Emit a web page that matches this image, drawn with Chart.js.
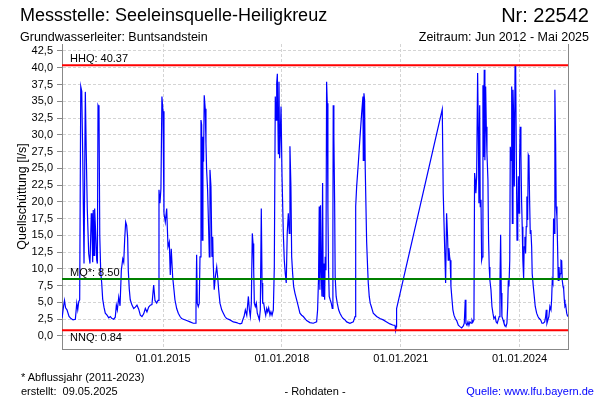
<!DOCTYPE html>
<html>
<head>
<meta charset="utf-8">
<script src="https://cdn.jsdelivr.net/npm/chart.js@4.4.1/dist/chart.umd.min.js"></script>
<style>
  body { margin: 0; background: #fff; }
  #box { position: relative; width: 600px; height: 400px; font-family: 'Liberation Sans', Arial, sans-serif; color: #000; }
  #box div { position: absolute; white-space: pre; line-height: 1; }
  canvas { position: absolute; left: 0; top: 0; }
</style>
</head>
<body>
<div id="box">
  <canvas id="chart" width="600" height="400"></canvas>
  <div style="left:20px;top:6px;font-size:18px">Messstelle: Seeleinsquelle-Heiligkreuz</div>
  <div style="right:11px;top:5px;font-size:20px">Nr: 22542</div>
  <div style="left:20px;top:31px;font-size:12.5px">Grundwasserleiter: Buntsandstein</div>
  <div style="right:11px;top:31px;font-size:12.5px">Zeitraum: Jun 2012 - Mai 2025</div>
  <div style="left:21px;top:372px;font-size:11px">* Abflussjahr (2011-2023)</div>
  <div style="left:21px;top:386px;font-size:11px">erstellt:  09.05.2025</div>
  <div style="left:315px;top:386px;font-size:11px;transform:translateX(-50%)">- Rohdaten -</div>
  <div style="right:6px;top:386px;font-size:11px;color:#0000ff">Quelle: www.lfu.bayern.de</div>
</div>
<script>
// Kennwerte
const hhq = 40.37
const mq = 8.50
const nnq = 0.84

// Achsen
const xTickDates = ['2015-01-01', '2018-01-01', '2021-01-01', '2024-01-01']
const yTickValues = [0, 2.5, 5, 7.5, 10, 12.5, 15, 17.5, 20, 22.5, 25, 27.5, 30, 32.5, 35, 37.5, 40, 42.5]

const datum = [
  '2012-06-15','2012-06-28','2012-07-07','2012-07-17','2012-07-30','2012-08-18','2012-09-05','2012-09-24','2012-10-15','2012-10-28',
  '2012-11-06','2012-11-15','2012-11-24','2012-12-04','2012-12-13','2012-12-22',
  '2013-01-03','2013-01-15','2013-01-24','2013-02-02','2013-02-15','2013-02-27','2013-03-11','2013-03-17','2013-03-24','2013-03-29',
  '2013-04-05','2013-04-11','2013-04-21','2013-04-30','2013-05-06','2013-05-12','2013-05-21','2013-05-28','2013-06-06','2013-06-15',
  '2013-06-24','2013-07-06','2013-07-18','2013-08-03','2013-08-19','2013-09-02','2013-09-18','2013-10-04','2013-10-18','2013-10-28',
  '2013-11-06','2013-11-19','2013-12-01','2013-12-13','2013-12-26',
  '2014-01-04','2014-01-13','2014-01-22','2014-01-31','2014-02-09','2014-02-15','2014-02-24','2014-03-05','2014-03-21','2014-04-06',
  '2014-04-21','2014-05-06','2014-05-22','2014-06-06','2014-06-21','2014-07-07','2014-07-22','2014-08-06','2014-08-22','2014-09-06',
  '2014-09-21','2014-10-07','2014-10-19','2014-11-04','2014-11-16','2014-11-25','2014-12-04','2014-12-13','2014-12-22',
  '2015-01-01','2015-01-10','2015-01-22','2015-02-04','2015-02-16','2015-02-28','2015-03-09','2015-03-18','2015-03-31','2015-04-12',
  '2015-04-21','2015-05-07','2015-05-22','2015-06-07','2015-06-22','2015-07-07','2015-08-07','2015-09-07','2015-10-07','2015-10-23',
  '2015-11-01','2015-11-07','2015-11-13','2015-11-22','2015-12-01','2015-12-08','2015-12-17','2015-12-23','2015-12-29',
  '2016-01-04','2016-01-10','2016-01-16','2016-01-25','2016-02-01','2016-02-07','2016-02-16','2016-02-26','2016-03-03','2016-03-09',
  '2016-03-18','2016-03-27','2016-04-03','2016-04-08','2016-04-17','2016-04-27','2016-05-10','2016-05-19','2016-05-28','2016-06-09',
  '2016-06-25','2016-07-10','2016-07-25','2016-08-10','2016-09-09','2016-10-10','2016-11-10','2016-11-25','2016-12-11','2016-12-27',
  '2017-01-05','2017-01-17','2017-01-29','2017-02-11','2017-02-26','2017-03-07','2017-03-16','2017-03-25','2017-04-03','2017-04-10',
  '2017-04-16','2017-04-22','2017-05-01','2017-05-10','2017-05-19','2017-05-29','2017-06-07','2017-06-16','2017-06-25','2017-07-02',
  '2017-07-08','2017-07-17','2017-07-26','2017-08-05','2017-08-14','2017-08-23','2017-09-01','2017-09-13','2017-09-22','2017-10-02',
  '2017-10-14','2017-10-23','2017-11-01','2017-11-08','2017-11-14','2017-11-20','2017-11-29','2017-12-05','2017-12-11','2017-12-24',
  '2018-01-02','2018-01-14','2018-01-23','2018-02-01','2018-02-10','2018-02-19','2018-03-01','2018-03-10','2018-03-16','2018-03-25',
  '2018-04-01','2018-04-10','2018-04-19','2018-05-01','2018-05-17','2018-06-01','2018-06-16','2018-07-02','2018-07-17','2018-08-17',
  '2018-09-16','2018-10-17','2018-11-17','2018-11-26','2018-12-05','2018-12-11','2018-12-17','2018-12-23','2018-12-29',
  '2019-01-05','2019-01-11','2019-01-17','2019-01-23','2019-01-30','2019-02-04','2019-02-11','2019-02-17','2019-02-23','2019-03-01',
  '2019-03-07','2019-03-13','2019-03-22','2019-04-01','2019-04-10','2019-04-16','2019-04-19','2019-04-25','2019-05-02','2019-05-07',
  '2019-05-16','2019-05-26','2019-06-08','2019-06-20','2019-07-06','2019-07-20','2019-08-05','2019-08-21','2019-09-20','2019-10-21',
  '2019-11-06','2019-11-12','2019-11-21','2019-12-06','2019-12-22',
  '2020-01-06','2020-01-18','2020-01-21','2020-01-27','2020-02-02','2020-02-08','2020-02-21','2020-03-02','2020-03-07','2020-03-16',
  '2020-03-25','2020-04-04','2020-04-13','2020-04-22','2020-05-23','2020-06-23','2020-07-23','2020-08-23','2020-09-23','2020-10-23',
  '2020-11-08','2020-11-14','2020-11-20','2020-11-23',
  '2022-01-18','2022-01-27','2022-02-09','2022-02-18','2022-02-27','2022-03-08','2022-03-14','2022-03-20','2022-03-27','2022-04-01',
  '2022-04-08','2022-04-17','2022-04-26','2022-05-06','2022-05-18','2022-05-31','2022-06-15','2022-06-30','2022-07-16','2022-07-31',
  '2022-08-09','2022-08-18','2022-08-24','2022-09-03','2022-09-12','2022-09-21','2022-09-30','2022-10-10','2022-10-19','2022-10-28',
  '2022-11-06','2022-11-12','2022-11-18','2022-11-24','2022-12-01','2022-12-10','2022-12-16','2022-12-22','2022-12-29',
  '2023-01-03','2023-01-10','2023-01-16','2023-01-22','2023-01-28','2023-02-03','2023-02-09','2023-02-15','2023-02-22','2023-02-28',
  '2023-03-06','2023-03-15','2023-03-21','2023-03-27','2023-04-02','2023-04-12','2023-04-21','2023-04-30','2023-05-09','2023-05-21',
  '2023-05-30','2023-06-09','2023-06-18','2023-06-27','2023-07-04','2023-07-10','2023-07-16','2023-07-22','2023-08-01','2023-08-10',
  '2023-08-19','2023-08-28','2023-09-06','2023-09-13','2023-09-19','2023-09-25','2023-10-02','2023-10-07','2023-10-14','2023-10-20',
  '2023-10-26','2023-11-01','2023-11-08','2023-11-13','2023-11-20','2023-11-26','2023-12-02','2023-12-08','2023-12-15','2023-12-20',
  '2023-12-27',
  '2024-01-01','2024-01-06','2024-01-13','2024-01-19','2024-01-25','2024-01-31','2024-02-07','2024-02-12','2024-02-19','2024-02-25',
  '2024-03-02','2024-03-08','2024-03-15','2024-03-21','2024-03-27','2024-04-02','2024-04-08','2024-04-14','2024-04-21','2024-04-26',
  '2024-05-06','2024-05-15','2024-05-24','2024-06-06','2024-06-18','2024-06-30','2024-07-13','2024-07-25','2024-08-06','2024-08-19',
  '2024-08-28','2024-09-03','2024-09-09','2024-09-18','2024-09-27','2024-10-06','2024-10-16','2024-10-22','2024-10-28','2024-11-03',
  '2024-11-09','2024-11-15','2024-11-21','2024-11-28','2024-12-03','2024-12-10','2024-12-16','2024-12-22','2024-12-29',
  '2025-01-04','2025-01-10','2025-01-16','2025-01-23','2025-01-28','2025-02-04','2025-02-10','2025-02-16','2025-02-22','2025-03-01',
  '2025-03-10','2025-03-19'
]

const abfluss = [
  2.7, 4.4, 5.3, 4.2, 3.9, 2.9, 2.6, 2.4, 2.5, 4.9,
  3.9, 5.1, 5.4, 37.2, 36.5, 27.0,
  10.8, 36.4, 27.0, 19.0, 12.3, 10.8, 18.3, 16.3, 11.0, 18.8,
  12.0, 19.0, 15.0, 11.3, 10.8, 34.4, 34.0, 15.0, 9.5, 7.9,
  5.5, 4.3, 3.4, 3.1, 2.7, 2.9, 2.6, 2.5, 2.8, 4.6,
  3.9, 5.8, 4.5, 9.8, 11.5,
  11.0, 14.5, 17.0, 16.5, 14.6, 9.8, 7.0, 5.4, 4.6, 4.1,
  4.3, 4.6, 4.0, 3.1, 2.9, 3.3, 4.1, 3.6, 4.3, 4.6,
  4.7, 7.6, 5.3, 4.9, 5.3, 21.8, 19.8, 22.0, 35.7,
  33.5, 18.3, 17.0, 19.0, 13.3, 14.0, 9.1, 13.0, 8.8, 6.9,
  5.4, 4.1, 3.4, 2.9, 2.6, 2.5, 2.3, 2.1, 1.9, 1.9,
  3.9, 12.1, 4.9, 4.4, 4.9, 11.8, 32.2, 31.5, 14.3,
  29.7, 26.0, 35.9, 33.9, 28.7, 24.8, 21.8, 15.8, 11.8, 24.8,
  22.3, 11.8, 14.8, 10.8, 6.9, 8.8, 10.3, 8.8, 6.9, 4.9,
  3.9, 3.4, 2.9, 2.6, 2.4, 2.1, 2.0, 1.9, 1.8, 1.9,
  2.4, 2.9, 3.9, 3.1, 5.9, 3.9, 2.9, 4.9, 15.3, 13.8,
  9.8, 4.9, 4.4, 4.9, 3.4, 2.9, 2.4, 3.9, 19.0, 7.9,
  4.9, 4.9, 3.9, 3.1, 4.1, 3.6, 4.2, 3.1, 3.6, 3.1,
  3.9, 10.3, 35.7, 32.2, 37.7, 39.1, 27.2, 37.9, 26.5, 34.2,
  23.8, 15.3, 11.3, 9.3, 7.9, 15.3, 18.3, 15.3, 28.3, 22.3,
  11.8, 9.3, 7.4, 6.4, 5.4, 4.4, 3.4, 3.1, 2.9, 2.3,
  2.0, 1.9, 2.1, 3.9, 8.8, 19.3, 6.9, 19.5, 9.8,
  5.9, 22.8, 5.9, 10.8, 5.4, 11.8, 9.8, 37.9, 34.7, 18.8,
  9.8, 5.9, 5.4, 4.9, 4.1, 15.8, 34.4, 29.7, 19.8, 8.8,
  5.9, 4.9, 3.9, 3.4, 2.9, 2.6, 2.4, 2.1, 1.9, 2.1,
  2.9, 19.3, 22.3, 25.7, 29.7,
  33.2, 35.7, 26.2, 36.2, 35.2, 25.0, 14.0, 9.8, 7.9, 5.9,
  4.9, 4.4, 3.9, 3.4, 2.9, 2.6, 2.4, 2.1, 1.8, 1.6,
  1.6, 0.84, 1.4, 4.1,
  33.8, 21.3, 13.3, 7.9, 18.3, 14.8, 11.3, 13.1, 11.8, 11.3,
  7.4, 5.6, 3.9, 3.1, 2.6, 2.3, 1.6, 1.4, 1.2, 1.5,
  1.9, 5.4, 1.9, 1.6, 2.1, 1.6, 2.1, 1.9, 2.4, 2.1,
  2.4, 24.3, 23.3, 21.3, 23.8, 39.2, 31.2, 19.8, 34.4,
  19.3, 20.3, 11.3, 11.8, 37.4, 26.7, 39.7, 26.2, 37.2, 31.2,
  27.2, 23.3, 14.3, 10.3, 8.3, 6.9, 4.4, 3.4, 2.6, 2.9,
  2.1, 1.9, 2.4, 2.9, 8.3, 15.1, 6.4, 2.9, 2.4, 1.9,
  1.6, 1.4, 1.9, 4.4, 8.3, 7.4, 11.3, 28.2, 26.2, 37.2,
  16.8, 36.7, 32.2, 22.3, 40.37, 39.2, 26.2, 14.3, 17.8, 23.8,
  18.3,
  26.2, 31.2, 27.2, 20.3, 16.3, 11.3, 8.6, 13.3, 14.8, 12.3,
  16.3, 20.8, 17.3, 27.0, 26.7, 20.3, 15.3, 15.8, 13.3, 9.3,
  7.4, 5.9, 4.4, 3.4, 2.9, 2.6, 2.4, 1.9, 1.9, 2.1,
  2.9, 3.9, 1.9, 2.4, 2.9, 4.4, 3.9, 5.4, 8.3, 7.9,
  17.5, 15.3, 36.7, 28.7, 19.3, 17.8, 13.3, 8.3, 10.3,
  8.6, 9.3, 11.3, 11.2, 8.3, 7.4, 7.0, 5.4, 4.4, 4.6,
  3.4, 2.9
]

const xMin = Date.parse('2012-06-14T00:00:00Z')
const xMax = Date.parse('2025-03-22T00:00:00Z')
const ts = d => Date.parse(d + 'T00:00:00Z')

const messwerte = datum.map((d, i) => ({ x: ts(d), y: abfluss[i] }))
const refLine = v => [{ x: xMin, y: v }, { x: xMax, y: v }]

function fmtDate(v) {
  const d = new Date(v)
  const p = n => String(n).padStart(2, '0')
  return p(d.getUTCDate()) + '.' + p(d.getUTCMonth() + 1) + '.' + d.getUTCFullYear()
}

const refLabels = {
  id: 'refLabels',
  afterDatasetsDraw(chart) {
    const { ctx, scales: { x, y } } = chart
    ctx.save()
    ctx.font = "11px 'Liberation Sans', Arial, sans-serif"
    ctx.fillStyle = '#000'
    const x0 = x.left + 8
    ctx.textBaseline = 'alphabetic'
    ctx.fillText('HHQ: ' + hhq.toFixed(2), x0, y.getPixelForValue(hhq) - 3)
    ctx.fillText('MQ*: ' + mq.toFixed(2), x0, y.getPixelForValue(mq) - 3)
    ctx.textBaseline = 'top'
    ctx.fillText('NNQ: ' + nnq.toFixed(2), x0, y.getPixelForValue(nnq) + 2)
    // rechter Rahmen
    ctx.strokeStyle = '#888'
    ctx.lineWidth = 1
    ctx.beginPath()
    ctx.moveTo(Math.round(x.right) + 0.5, y.top)
    ctx.lineTo(Math.round(x.right) + 0.5, y.bottom)
    ctx.stroke()
    ctx.restore()
  }
}

Chart.defaults.font.family = "'Liberation Sans', Arial, sans-serif"
Chart.defaults.color = '#000'

new Chart(document.getElementById('chart'), {
  type: 'line',
  data: {
    datasets: [
      { data: refLine(hhq), borderColor: '#ff0000', borderWidth: 2, pointRadius: 0, order: 1 },
      { data: refLine(mq), borderColor: '#008000', borderWidth: 2, pointRadius: 0, order: 1 },
      { data: refLine(nnq), borderColor: '#ff0000', borderWidth: 2, pointRadius: 0, order: 1 },
      { data: messwerte, borderColor: '#0000ff', borderWidth: 1.2, pointRadius: 0, tension: 0, order: 2 }
    ]
  },
  options: {
    responsive: false,
    animation: false,
    events: [],
    layout: { padding: { left: 0, right: 32, top: 44, bottom: 0 } },
    plugins: { legend: { display: false }, tooltip: { enabled: false } },
    scales: {
      x: {
        type: 'linear',
        min: xMin,
        max: xMax,
        afterBuildTicks: s => { s.ticks = xTickDates.map(d => ({ value: ts(d) })) },
        afterFit: s => { s.height = 51 },
        ticks: { callback: v => fmtDate(v), autoSkip: false, maxRotation: 0, padding: 3, font: { size: 11 } },
        grid: { color: '#d4d4d4', drawTicks: false },
        border: { color: '#888', dash: [3, 2] }
      },
      y: {
        min: -1.94,
        max: 43.54,
        afterBuildTicks: s => { s.ticks = yTickValues.map(v => ({ value: v })) },
        afterFit: s => { s.width = 62 },
        ticks: { callback: v => v.toFixed(1).replace('.', ','), padding: 4, font: { size: 11 } },
        grid: { color: '#d4d4d4', tickColor: '#888', tickLength: 5 },
        border: { color: '#888', dash: [3, 2] },
        title: { display: true, text: 'Quellschüttung [l/s]', font: { size: 12.5 }, padding: { top: 15, bottom: 0 } }
      }
    }
  },
  plugins: [refLabels]
})
</script>
</body>
</html>
